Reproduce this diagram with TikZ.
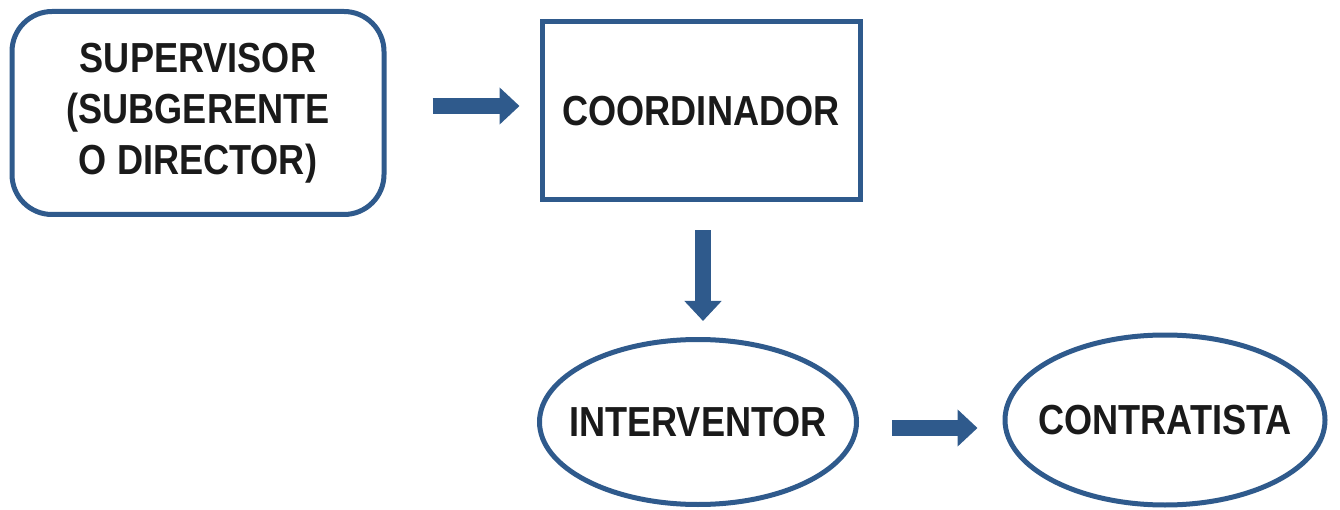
\documentclass[tikz,border=0pt]{standalone}
\usepackage{fontspec}
\setmainfont{Liberation Sans}[FakeStretch=0.86]
\usetikzlibrary{shapes.geometric,arrows.meta}
\definecolor{frameblue}{HTML}{2F5A8C}
\definecolor{inkblack}{HTML}{1A1A1A}

\begin{document}
\begin{tikzpicture}[x=1pt,y=-1pt,
		box/.style={draw=frameblue, line width=5pt, fill=white, text=inkblack,
			font=\fontsize{42}{51}\selectfont\bfseries, align=center, inner sep=0pt},
		oval/.style={box, ellipse, inner xsep=-20pt, inner ysep=-10pt},
		flow/.style={frameblue, line width=16pt, -{Triangle[length=20pt,width=36pt]}}]
			\useasboundingbox (0,0) rectangle (1340,510);

			% boxes
			\node[box, rounded corners=40pt, minimum width=372pt, minimum height=203pt] (sup) at (198,113) {SUPERVISOR\\(SUBGERENTE\\ O DIRECTOR)};
			\node[box, minimum width=318pt, minimum height=178pt] (coord) at (701,111) {COORDINADOR};
			\node[oval, minimum width=317pt, minimum height=165pt] (interv) at (698,422) {INTERVENTOR};
			\node[oval, minimum width=320pt, minimum height=170pt] (contr) at (1165,420) {CONTRATISTA};

			% arrows
			\draw[flow, shorten <=46pt, shorten >=20pt] ([yshift=7pt]sup.east) -- ([yshift=7pt]coord.west |- sup.east);
			\draw[flow, shorten <=28pt, shorten >=16pt] ([xshift=2pt]coord.south) -- ([xshift=2pt]coord.south |- interv.north);
			\draw[flow, shorten <=33pt, shorten >=25pt] ([yshift=-6pt]interv.east) -- ([yshift=-6pt]contr.west |- interv.east);
		\end{tikzpicture}
\end{document}
